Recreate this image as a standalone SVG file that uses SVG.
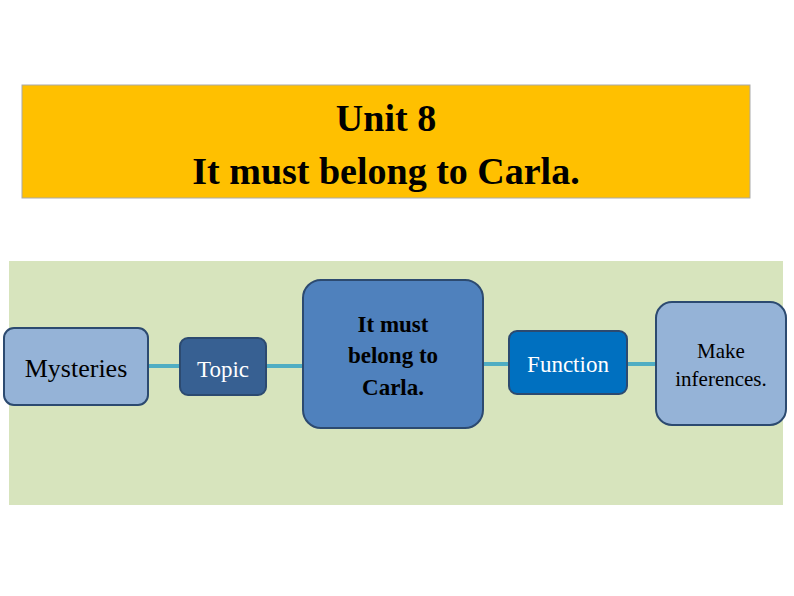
<svg xmlns="http://www.w3.org/2000/svg" width="794" height="596" viewBox="0 0 794 596">
<style>
.b{stroke:#2c4a70;stroke-width:2}
.t{font-family:"Liberation Serif",serif;text-anchor:middle}
.c{stroke:#4fadc3;stroke-width:4;fill:none}
</style>
<rect width="794" height="596" fill="#fff"/>
<g id="title">
<rect x="22" y="85" width="728" height="113" fill="#FFC000" stroke="#aaa" stroke-width="1"/>
<text class="t" x="386" y="131" font-size="38" font-weight="bold">Unit 8</text>
<text class="t" x="386" y="184" font-size="38" font-weight="bold">It must belong to Carla.</text>
</g>
<rect x="9" y="261" width="774" height="244" fill="#D7E4BD"/>
<g id="connectors">
<line class="c" x1="148" y1="366" x2="180" y2="366"/>
<line class="c" x1="266" y1="366" x2="303" y2="366"/>
<line class="c" x1="483" y1="364" x2="509" y2="364"/>
<line class="c" x1="627" y1="364" x2="656" y2="364"/>
</g>
<g id="mysteries">
<rect class="b" x="4" y="328" width="144" height="77" rx="10" fill="#95B3D7"/>
<text class="t" x="76" y="377" font-size="26">Mysteries</text>
</g>
<g id="topic">
<rect class="b" x="180" y="338" width="86" height="57" rx="8" fill="#376092" stroke="#2c4a70"/>
<text class="t" x="223" y="377" font-size="23" fill="#fff">Topic</text>
</g>
<g id="center">
<rect class="b" x="303" y="280" width="180" height="148" rx="18" fill="#4F81BD"/>
<text class="t" x="393" y="332" font-size="23" font-weight="bold">It must</text>
<text class="t" x="393" y="363" font-size="23" font-weight="bold">belong to</text>
<text class="t" x="393" y="395" font-size="23" font-weight="bold">Carla.</text>
</g>
<g id="function">
<rect class="b" x="509" y="331" width="118" height="63" rx="8" fill="#0070C0"/>
<text class="t" x="568" y="372" font-size="23" fill="#fff">Function</text>
</g>
<g id="make">
<rect class="b" x="656" y="302" width="130" height="123" rx="16" fill="#95B3D7"/>
<text class="t" x="721" y="358" font-size="21">Make</text>
<text class="t" x="721" y="386" font-size="21">inferences.</text>
</g>
</svg>
